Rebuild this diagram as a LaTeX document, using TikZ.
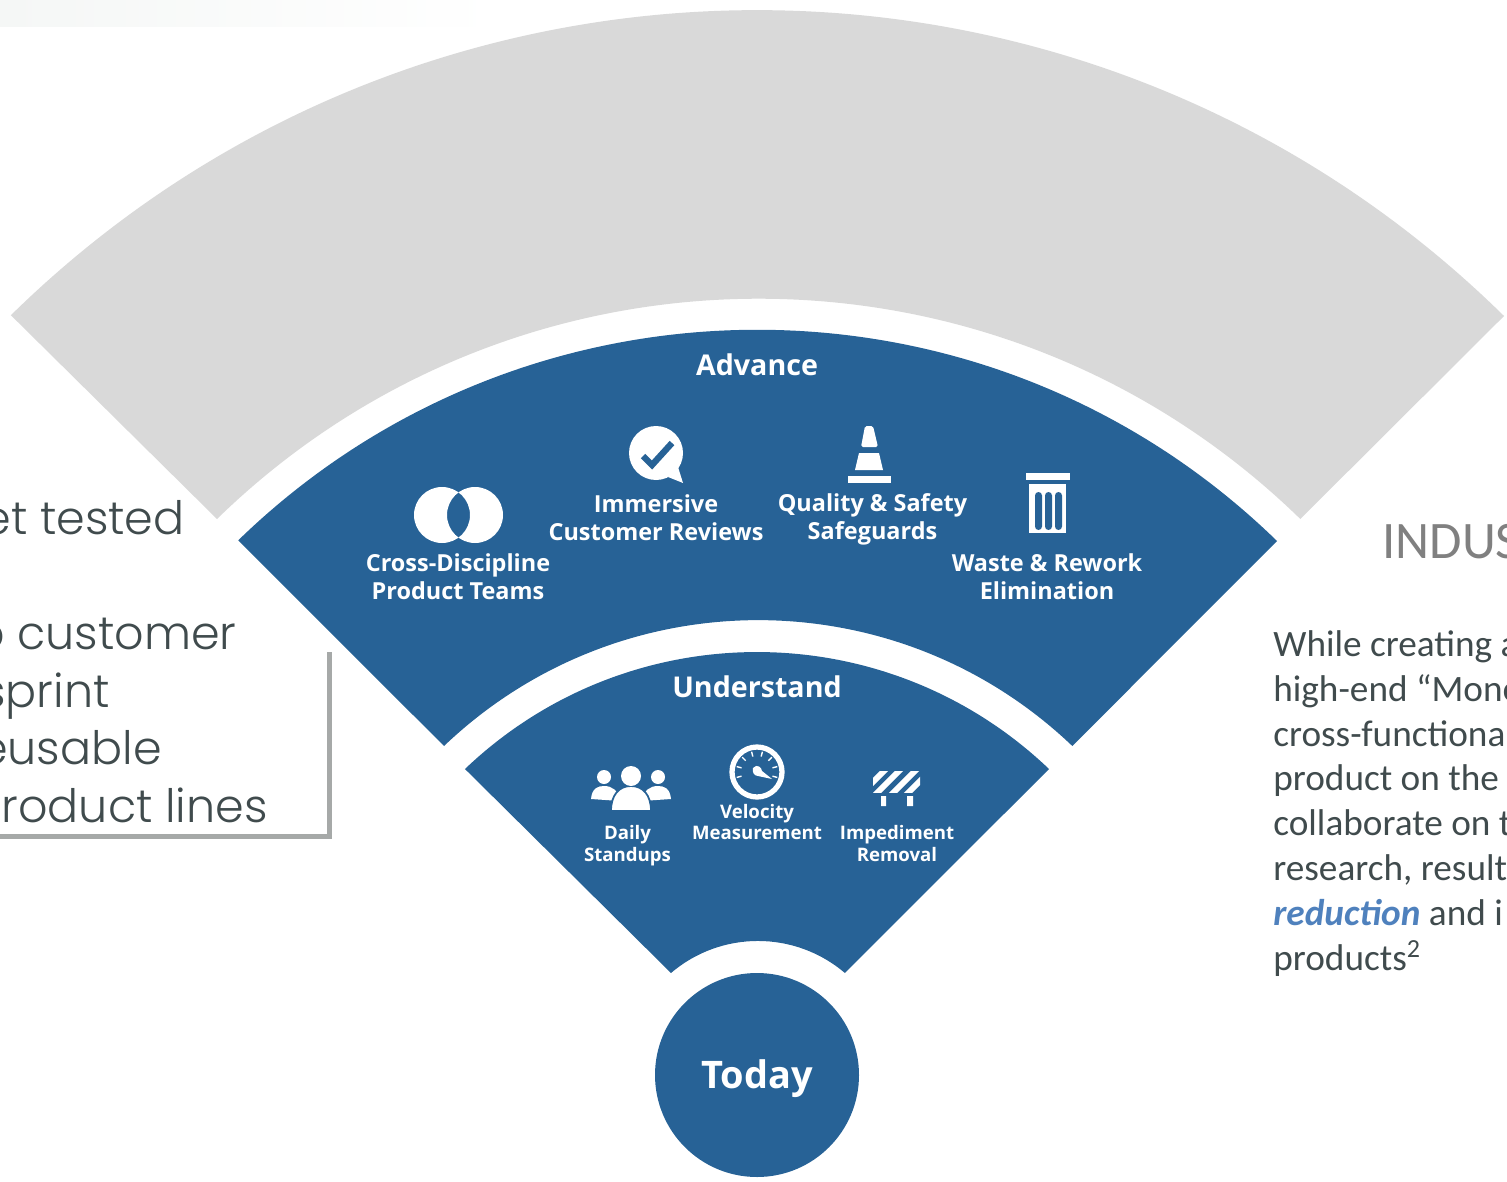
\documentclass[tikz,border=0pt]{standalone}
\usepackage{fontspec}
\setsansfont{Open Sans}
\newfontfamily\gothicfont{Poppins Light}
\newfontfamily\bookfont{Carlito}
\definecolor{wedgeblue}{HTML}{276296}
\definecolor{wedgegrey}{HTML}{D9D9D9}
\definecolor{framegrey}{HTML}{A6A9A8}
\definecolor{bandgrey}{HTML}{F5F7F6}
\definecolor{slatetext}{HTML}{404B4D}
\definecolor{linkblue}{HTML}{4F81BD}
\tikzset{
	bigtitle/.style={text=white,font=\sffamily\bfseries\fontsize{16.3}{19}\selectfont},
	itemlabel/.style={text=white,align=center,font=\sffamily\bfseries\fontsize{13.35}{15.9}\selectfont},
	smalllabel/.style={text=white,align=center,font=\sffamily\bfseries\fontsize{10.6}{12.5}\selectfont},
	gothictext/.style={anchor=base east,text=slatetext,inner sep=0pt,font=\gothicfont\fontsize{26.2}{33}\selectfont},
}
\begin{document}
\begin{tikzpicture}[x=.02cm,y=-.02cm]
	\useasboundingbox (0,0) rectangle (1507,1182);
	\shade[left color=bandgrey,right color=white] (0,0) rectangle (500,27);
	\coordinate (C) at (757,1075);
	\coordinate (GR) at (1504,316);
	\coordinate (Gl) at (217,519);
	\coordinate (AR) at (1277,541);
	\coordinate (Al) at (444,746);
	\coordinate (UR) at (1049,769);
	\coordinate (Ul) at (671,973);
	% wedges
	\fill[wedgegrey] (GR) arc[start angle=-45.46,end angle=-134.48,radius=1065]
		-- (Gl) arc[start angle=-134.27,end angle=-45.73,radius=776] -- cycle;
	\fill[wedgeblue] (AR) arc[start angle=-45.76,end angle=-134.16,radius=745]
		-- (Al) arc[start angle=-133.67,end angle=-46.33,radius=455] -- cycle;
	\fill[wedgeblue] (UR) arc[start angle=-46.34,end angle=-133.66,radius=423]
		-- (Ul) arc[start angle=-130.46,end angle=-49.54,radius=134] -- cycle;
	\fill[wedgeblue] (C) circle (102);
	\node[bigtitle] (today) at (757,1079) {\fontsize{21.6}{25}\selectfont Today};
	\node[bigtitle] (advance) at (757,365) {Advance};
	\node[bigtitle] (understand) at (757,687) {Understand};
	% cross-discipline
	\fill[white,even odd rule] (442,515) circle (28) (475,515) circle (28);
	\node[itemlabel] (crossteams) at (458,577) {Cross-Discipline\\Product Teams};
	% bubble
	\fill[white] (656,453) circle (27);
	\fill[white] (668,477) -- (683,483) -- (678,467) -- cycle;
	\draw[wedgeblue,line width=3.6pt] (643,456) -- (652,465) -- (672,443);
	\node[itemlabel] (reviews) at (656,518) {Immersive\\Customer Reviews};
	% cone
	\fill[white,rounded corners=1] (861,447) -- (865,426) -- (873,426) -- (878,447) -- cycle;
	\fill[white] (859,453) -- (879,453) -- (883,470) -- (855,470) -- cycle;
	\fill[white] (848,476) rectangle (891,483);
	\node[itemlabel] (safety) at (872.5,519.5) {Quality \& Safety\\Safeguards};
	% bin
	\fill[white] (1026,473) rectangle (1070,480);
	\fill[white] (1029,484) rectangle (1066,533);
	\foreach \x in {1035,1045,1055}
		\fill[wedgeblue,rounded corners=2] (\x,492) rectangle (\x+7,530);
	\node[itemlabel] (waste) at (1047,577) {Waste \& Rework\\Elimination};
	% people
	\fill[white] (604,777) circle (7) (658,777) circle (7);
	\fill[white] (591,799) .. controls (592,788) and (598,786) .. (604,786)
		.. controls (612,786) and (618,790) .. (620,801) -- cycle;
	\fill[white] (671,799) .. controls (670,788) and (664,786) .. (658,786)
		.. controls (650,786) and (644,790) .. (642,801) -- cycle;
	\fill[white,draw=wedgeblue,line width=1pt] (611,811) .. controls (611,795) and (619,786) .. (631,786)
		.. controls (643,786) and (651,795) .. (651,811) -- cycle;
	\fill[white] (631,776) circle (10);
	\node[smalllabel] (standups) at (627.5,846) {Daily\\Standups};
	% gauge
	\draw[white,line width=3pt] (757,772) circle (25);
	\foreach \a in {-15,15,...,195}
		\draw[white,line width=.8pt] (757,772) ++(-\a:16) -- ++(-\a:5);
	\fill[white] (753,768) .. controls (757,763) and (762,768) .. (762,771)
		-- (772,779) -- (758,776) .. controls (754,776) and (752,772) .. (753,768) -- cycle;
	\node[smalllabel] (velocity) at (757,822) {Velocity\\Measurement};
	% barrier
	\begin{scope}
		\clip (873,771) rectangle (920,792);
		\foreach \x in {860,875,891,906}
			\draw[white,line width=3.35pt] (\x,795) -- (\x+27,768);
	\end{scope}
	\fill[white] (881,796) rectangle (886,806) (907,796) rectangle (913,806);
	\node[smalllabel] (impediment) at (897,843.5) {Impediment\\Removal};
	% left panel
	\draw[framegrey,line width=2.85pt] (-5,836) -| (329.5,652);
	\node[gothictext] (tested) at (185,534) {et tested};
	\node[gothictext] (customer) at (237,649) {o customer};
	\node[gothictext] (sprint) at (110,707) {sprint};
	\node[gothictext] (reusable) at (162,764) {eusable};
	\node[gothictext] (lines) at (268,822) {roduct lines};
	% right panel
	\node[anchor=base west,inner sep=0pt,text=black!50,font=\bookfont\fontsize{30}{34}\selectfont] (industry) at (1382,558) {INDUS};
	\node[anchor=north west,inner sep=0pt,text=slatetext,align=left,font=\bookfont\fontsize{21.2}{25.55}\selectfont] (story) at (1273,630)
		{While creating a\\high-end “Mono\\cross-functional\\product on the\\collaborate on t\\research, result\\{\color{linkblue}\bfseries\itshape reduction} and i\\products\textsuperscript{2}};
\end{tikzpicture}
\end{document}
